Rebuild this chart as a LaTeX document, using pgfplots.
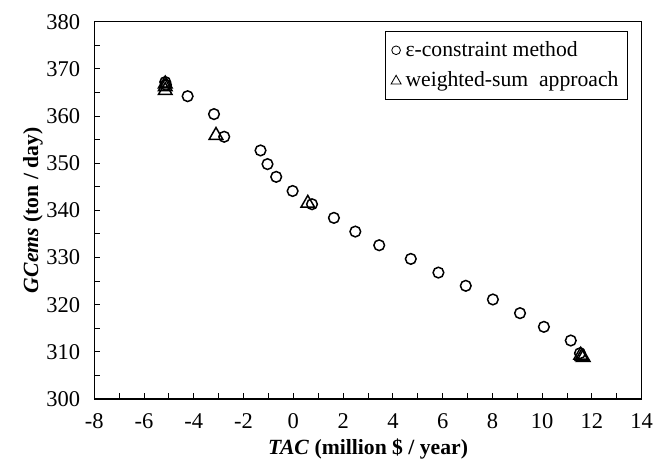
\documentclass[border=0pt]{standalone}
\usepackage{fontspec}
\setmainfont{Liberation Serif}
\usepackage{pgfplots}
\pgfplotsset{compat=1.18}

% epsilon-constraint method
\newcommand{\epsdata}{
(-5.15,367.2) (-5.12,366.6) (-4.25,364.2) (-3.19,360.4) (-2.78,355.6)
(-1.32,352.7) (-1.04,349.8) (-0.69,347.1) (-0.03,344.1) (0.75,341.3)
(1.63,338.4) (2.49,335.5) (3.45,332.6) (4.72,329.7) (5.83,326.8)
(6.93,324.0) (8.02,321.1) (9.11,318.2) (10.07,315.3) (11.15,312.4)
(11.52,309.7)}
% weighted-sum approach
\newcommand{\wsdata}{
(-5.15,366.8) (-5.15,366.2) (-5.15,365.4) (-3.11,355.9) (0.58,341.5)
(11.55,309.3) (11.60,309.0) (11.65,308.8)}

\begin{document}
\begin{tikzpicture}
\useasboundingbox (-56.6pt,-37.8pt) rectangle (335.8pt,239.4pt);
\begin{axis}[
  scale only axis,
  width=328.4pt, height=226.4pt,
  xmin=-8, xmax=14, ymin=300, ymax=380,
  xtick={-8,-6,...,14}, minor xtick={-7,-5,...,13},
  ytick={300,310,...,380}, minor ytick={305,315,...,375},
  tick pos=left, tick align=inside,
  major tick length=3.5pt, minor tick length=3.5pt,
  tick style={black, line width=0.6pt},
  axis line style={line width=0.8pt},
  font=\fontsize{13.5}{15}\selectfont,
  /pgf/number format/assume math mode=true,
  yticklabel style={xshift=-5pt},
  xticklabel style={yshift=-5pt},
  xlabel={\textbf{\textit{TAC} (million \$ / year)}},
  ylabel={\textbf{\textit{GCems} (ton / day)}},
  xlabel style={at={(axis description cs:0.5,-0.133)}, anchor=center,
    font=\fontsize{13}{15}\selectfont},
  ylabel style={at={(axis description cs:-0.112,0.5)}, anchor=center,
    font=\fontsize{13}{15}\selectfont},
  legend style={at={(rel axis cs:1,1)}, xshift=-8.2pt, yshift=-5.6pt,
    anchor=north east, draw=black, line width=0.6pt,
    font=\fontsize{13}{15}\selectfont,
    nodes={inner xsep=2.4pt},
    row sep=3.5pt, inner xsep=3pt, inner ysep=4pt},
  legend cell align=left,
]
\addplot[only marks, mark=o, mark size=3.2pt, line width=0.9pt, black,
  legend image code/.code={\draw[black, line width=0.5pt] (0pt,0pt) circle (2.6pt);}]
  coordinates {\epsdata};
\addlegendentry{ε-constraint method}
\addplot[only marks, mark=triangle, mark size=4.7pt, line width=0.9pt, black,
  legend image code/.code={\draw[black, line width=0.5pt] (-3pt,-2.2pt) -- (3pt,-2.2pt) -- (0pt,3pt) -- cycle;}]
  coordinates {\wsdata};
\addlegendentry{weighted-sum \ approach}
\end{axis}
\end{tikzpicture}
\end{document}
